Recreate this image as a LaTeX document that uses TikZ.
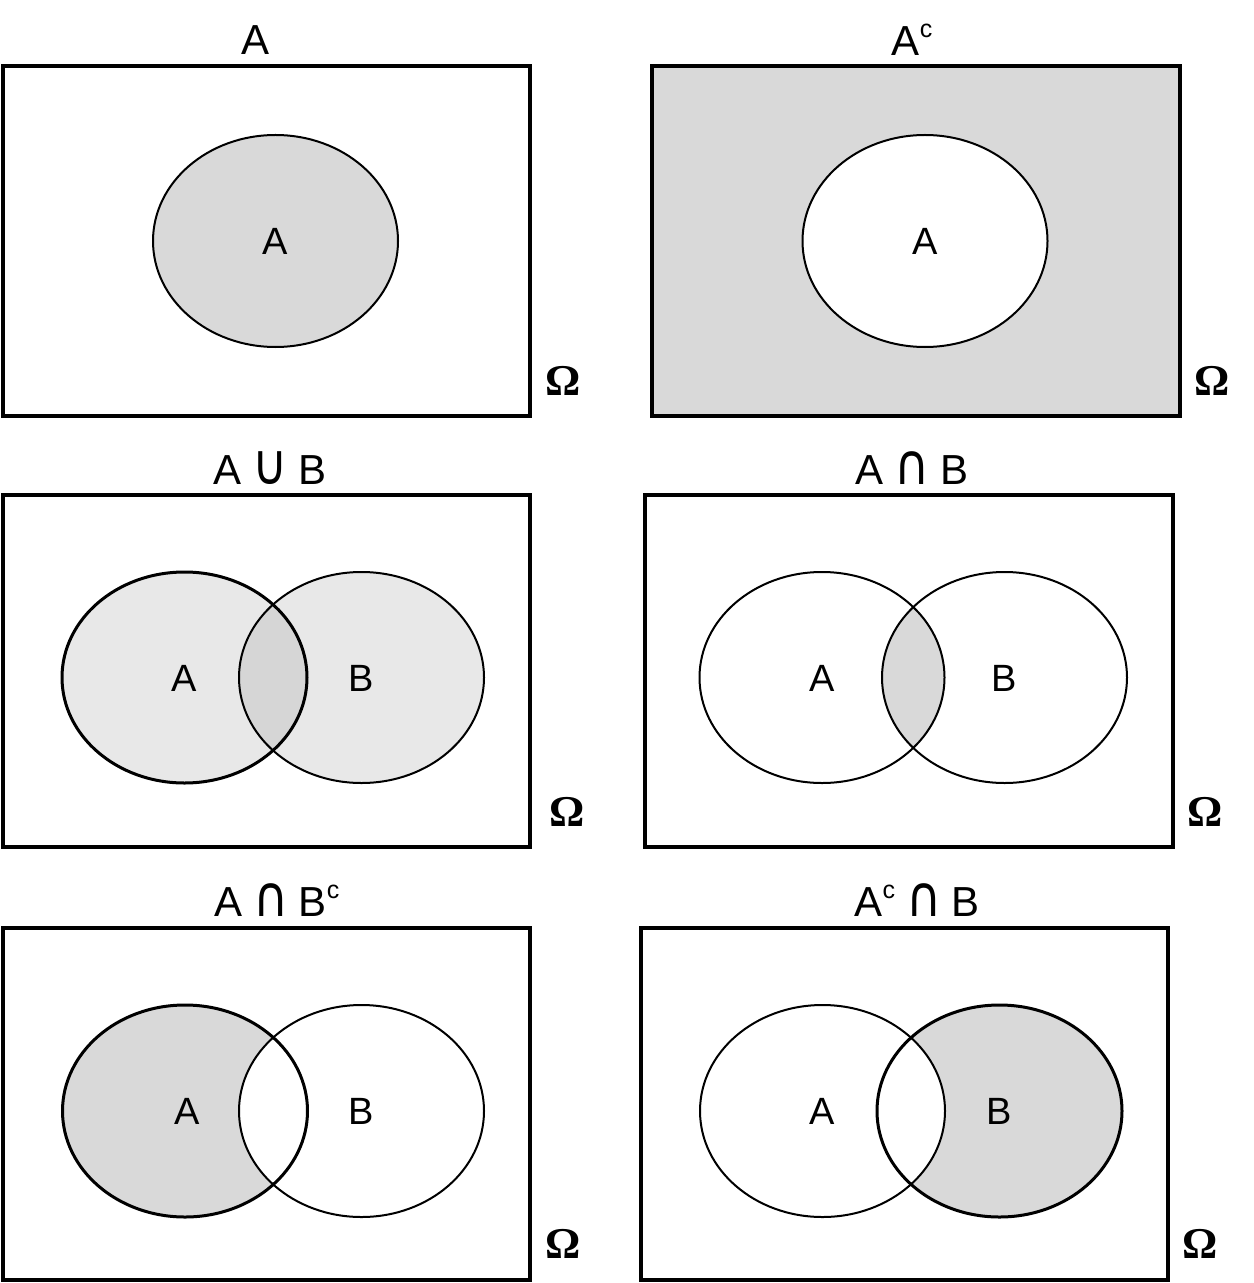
\documentclass[tikz,border=0pt]{standalone}
\usepackage{fontspec}
\setmainfont{Liberation Sans}
\newfontfamily\omegafont{Liberation Serif}
\newfontfamily\symfont{DejaVu Sans}
\definecolor{setgray}{gray}{.85}
\definecolor{lightgray}{gray}{.91}
\definecolor{midgray}{gray}{.84}
\newcommand{\cmp}{\raisebox{.42em}{\fontsize{12.5}{12.5}\selectfont c}}
\newcommand{\setcap}{\hspace{5.5pt}\scalebox{1.15}[1.35]{\symfont ∩}\hspace{5pt}}
\newcommand{\setcup}{\hspace{5.5pt}\scalebox{1.15}[1.35]{\symfont ∪}\hspace{5pt}}

\begin{document}
\begin{tikzpicture}[x=.5pt,y=-.5pt,
  frame/.style={line width=2pt},
  rim/.style={line width=1pt},
  title/.style={font=\fontsize{21}{21}\selectfont},
  lbl/.style={font=\fontsize{19}{19}\selectfont},
  omega/.style={font=\omegafont\bfseries\fontsize{22}{22}\selectfont}]
\useasboundingbox (0,0) rectangle (1253,1283);
% A
\draw[frame] (3,66) rectangle (530,416);
\draw[rim,fill=setgray] (275.5,241) ellipse[x radius=122.5,y radius=106];
% A complement
\draw[frame,fill=setgray] (652,66) rectangle (1180,416);
\draw[rim,fill=white] (925,241) ellipse[x radius=122.5,y radius=106];
% union
\draw[frame] (3,495) rectangle (530,847);
\fill[lightgray] (184.5,677.5) ellipse[x radius=122.5,y radius=105.5];
\fill[lightgray] (361.5,677.5) ellipse[x radius=122.5,y radius=105.5];
\begin{scope}
\clip (184.5,677.5) ellipse[x radius=122.5,y radius=105.5];
\fill[midgray] (361.5,677.5) ellipse[x radius=122.5,y radius=105.5];
\end{scope}
\draw[rim,line width=1.5pt] (184.5,677.5) ellipse[x radius=122.5,y radius=105.5];
\draw[rim] (361.5,677.5) ellipse[x radius=122.5,y radius=105.5];
% intersection
\draw[frame] (645,495) rectangle (1173,847);
\begin{scope}
\clip (822,677.5) ellipse[x radius=122.5,y radius=105.5];
\fill[setgray] (1004.5,677.5) ellipse[x radius=122.5,y radius=105.5];
\end{scope}
\draw[rim] (822,677.5) ellipse[x radius=122.5,y radius=105.5];
\draw[rim] (1004.5,677.5) ellipse[x radius=122.5,y radius=105.5];
% A minus B
\draw[frame] (3,928) rectangle (530,1280);
\fill[setgray] (185,1111) ellipse[x radius=122.5,y radius=106];
\fill[white] (361.5,1111) ellipse[x radius=122.5,y radius=106];
\draw[rim,line width=1.5pt] (185,1111) ellipse[x radius=122.5,y radius=106];
\draw[rim] (361.5,1111) ellipse[x radius=122.5,y radius=106];
% B minus A
\draw[frame] (641,928) rectangle (1168,1280);
\fill[setgray] (999.5,1111) ellipse[x radius=122.5,y radius=106];
\fill[white] (822.5,1111) ellipse[x radius=122.5,y radius=106];
\draw[rim] (822.5,1111) ellipse[x radius=122.5,y radius=106];
\draw[rim,line width=1.5pt] (999.5,1111) ellipse[x radius=122.5,y radius=106];
% labels
\foreach \n/\x/\y/\t in {a1/275.5/241/A,a2/925/241/A,a3/184.5/678/A,b3/361.5/678/B,
  a4/822/678/A,b4/1004.5/678/B,a5/187/1111/A,b5/361.5/1111/B,a6/822.5/1111/A,b6/999.5/1111/B}
  \node[lbl] (\n) at (\x,\y) {\t};
\foreach \n/\x/\y in {om1/563/381,om2/1212/381,om3/567/812,om4/1205/812,om5/563/1244,om6/1200/1244}
  \node[omega] (\n) at (\x,\y) {Ω};
\foreach \n/\x/\y/\t in {t1/256/40/{A},t2/912/40/{A\cmp},t3/270/468/{A\setcup B},
  t4/912/468/{A\setcap B},t5/277/900/{A\setcap B\cmp},t6/917/900/{A\cmp\setcap B}}
  \node[title] (\n) at (\x,\y) {\t};
\end{tikzpicture}
\end{document}
